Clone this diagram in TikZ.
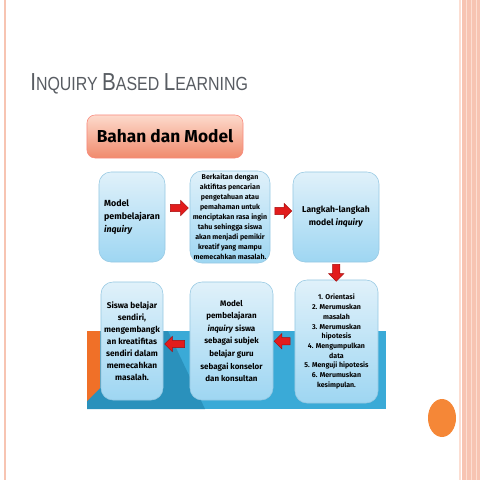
\documentclass[tikz,border=0pt]{standalone}
\usepackage{fontspec}
\setmainfont{Liberation Sans}
\newfontfamily\boxfont{Fira Sans}
\usetikzlibrary{positioning,shapes,shapes.arrows,calc,shadows}

\definecolor{salmon}{RGB}{247,196,178}
\definecolor{salmonlt}{RGB}{252,222,210}
\definecolor{titlegray}{RGB}{88,92,98}
\definecolor{boxtop}{RGB}{224,241,250}
\definecolor{boxbot}{RGB}{158,214,242}
\definecolor{boxline}{RGB}{150,200,226}
\definecolor{bandblue}{RGB}{58,170,215}
\definecolor{banddark}{RGB}{42,145,188}
\definecolor{bandorange}{RGB}{240,112,40}
\definecolor{dotorange}{RGB}{245,135,55}
\definecolor{arrowred}{RGB}{226,28,28}
\definecolor{arrowdark}{RGB}{165,10,10}
\definecolor{headtop}{RGB}{253,218,204}
\definecolor{headbot}{RGB}{240,138,108}

\newcommand\tcap[1]{{\fontsize{17.5}{17.5}\selectfont #1}}

\tikzset{
  stepbox/.style={rectangle, rounded corners=0.3cm, draw=boxline, line width=0.4pt,
    top color=boxtop, bottom color=boxbot, inner sep=0pt, align=center,
    font=\boxfont\bfseries},
  headbox/.style={rectangle, rounded corners=0.2cm, draw=salmon!70!red, line width=0.4pt,
    top color=headtop, bottom color=headbot, minimum width=3.9cm, minimum height=1.075cm,
    font=\boxfont\bfseries\fontsize{12.3}{12.3}\selectfont},
  redarrow/.style={single arrow, draw=arrowdark, line width=0.3pt, fill=arrowred,
    inner sep=0.085cm, single arrow head extend=0.1cm, single arrow head indent=0pt}
}

\begin{document}
\begin{tikzpicture}[x=0.025cm, y=-0.025cm]
    \useasboundingbox (0,0) rectangle (480,480);

    % page frame
    \fill[salmon] (4,0) rectangle (5.5,480);
    \fill[salmonlt] (459,0) rectangle (460.5,480);
    \fill[salmon] (462,0) rectangle (480,480);
    \foreach \x in {466,471,476}
        \fill[salmonlt] (\x,0) rectangle (\x+1,480);
    \fill[dotorange] (442,418) ellipse [x radius=0.35cm, y radius=0.475cm];

    \node[anchor=base west, text=titlegray, inner sep=0pt] (title) at (30,90)
        {\scalebox{0.84}[1]{\fontsize{13.5}{13.5}\selectfont \tcap{I}NQUIRY \tcap{B}ASED \tcap{L}EARNING}};

    % band behind the lower row
    \fill[bandblue] (87,331) rectangle (386,409);
    \fill[banddark] (87,331) -- (168,331) -- (205,409) -- (87,409) -- cycle;
    \fill[bandorange] (87,331) -- (100,331) -- (100,388) -- (87,401) -- cycle;

    \node[headbox] (head) at (165,136.5) {Bahan dan Model};

    % upper row
    \node[stepbox, minimum width=1.65cm, minimum height=2.25cm, align=left,
          font=\boxfont\bfseries\fontsize{6.3}{9}\selectfont] (model) at (132,217)
        {Model\\pembelajaran\\\textit{inquiry}};
    \node[stepbox, minimum width=2cm, minimum height=2.3cm,
          font=\boxfont\bfseries\fontsize{5}{7.1}\selectfont] (kaitan) at (230,217)
        {Berkaitan dengan\\aktifitas pencarian\\pengetahuan atau\\pemahaman untuk\\menciptakan rasa ingin\\tahu sehingga siswa\\akan menjadi pemikir\\kreatif yang mampu\\memecahkan masalah.};
    \node[stepbox, minimum width=2.15cm, minimum height=2.25cm,
          font=\boxfont\bfseries\fontsize{6.1}{9.2}\selectfont] (langkah) at (336,217)
        {Langkah-langkah\\model \textit{inquiry}};

    % lower row
    \node[stepbox, minimum width=2.075cm, minimum height=3.075cm,
          font=\boxfont\bfseries\fontsize{5}{6.9}\selectfont] (tahap) at (336.5,341.5)
        {1. Orientasi\\2. Merumuskan\\masalah\\3. Merumuskan\\hipotesis\\4. Mengumpulkan\\data\\5. Menguji hipotesis\\6. Merumuskan\\kesimpulan.};
    \node[stepbox, minimum width=2.075cm, minimum height=2.95cm,
          font=\boxfont\bfseries\fontsize{5.7}{8.9}\selectfont] (peran) at (231.5,341)
        {Model\\pembelajaran\\\textit{inquiry} siswa\\sebagai subjek\\belajar guru\\sebagai konselor\\dan konsultan};
    \node[stepbox, minimum width=1.55cm, minimum height=2.95cm,
          font=\boxfont\bfseries\fontsize{5.9}{8.5}\selectfont] (siswa) at (132,341)
        {Siswa belajar\\sendiri,\\mengembangk\\an kreatifitas\\sendiri dalam\\memecahkan\\masalah.};

    % block arrows
    \node[redarrow, minimum height=0.45cm] (a1) at ($(model.east)!0.5!(kaitan.west)+(0,-9)$) {};
    \node[redarrow, minimum height=0.42cm] (a2) at ($(kaitan.east)!0.5!(langkah.west)+(0,-6)$) {};
    \node[redarrow, minimum height=0.42cm, shape border rotate=270] (a3) at ($(langkah.south)!0.5!(tahap.north)$) {};
    \node[redarrow, minimum height=0.4cm, shape border rotate=180] (a4) at ($(tahap.west)!0.5!(peran.east)$) {};
    \node[redarrow, minimum height=0.5cm, shape border rotate=180] (a5) at ($(peran.west)!0.5!(siswa.east)+(0,3)$) {};

\end{tikzpicture}
\end{document}
